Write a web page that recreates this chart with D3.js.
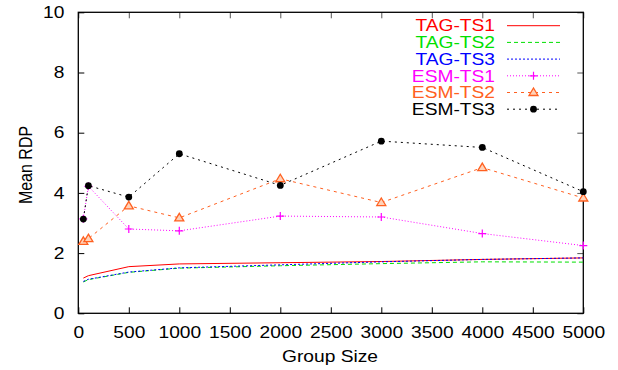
<!DOCTYPE html>
<html>
<head>
<meta charset="utf-8">
<script src="https://cdn.jsdelivr.net/npm/d3@7"></script>
<style>
  html, body { margin: 0; padding: 0; background: #fff; }
  svg { display: block; }
  text { font-family: "Liberation Sans", Arial, Helvetica, sans-serif; }
</style>
</head>
<body>
<svg id="chart" width="618" height="370"></svg>
<script>
// Group sizes on the x axis
const groupSizes = [50, 100, 500, 1000, 2000, 3000, 4000, 5000];

// Mean RDP per method
const tagTs1 = [1.17, 1.25, 1.55, 1.64, 1.68, 1.72, 1.79, 1.84];
const tagTs2 = [1.04, 1.12, 1.36, 1.50, 1.58, 1.65, 1.71, 1.70];
const tagTs3 = [1.06, 1.13, 1.37, 1.51, 1.61, 1.71, 1.79, 1.84];
const esmTs1 = [3.14, 4.22, 2.80, 2.74, 3.23, 3.20, 2.65, 2.25];
const esmTs2 = [2.39, 2.48, 3.57, 3.17, 4.47, 3.68, 4.84, 3.83];
const esmTs3 = [3.13, 4.24, 3.86, 5.30, 4.25, 5.72, 5.51, 4.04];

const seriesNames = ["TAG-TS1", "TAG-TS2", "TAG-TS3", "ESM-TS1", "ESM-TS2", "ESM-TS3"];
const xTicks = [0, 500, 1000, 1500, 2000, 2500, 3000, 3500, 4000, 4500, 5000];
const yTicks = [0, 2, 4, 6, 8, 10];

const styles = [
  { color: "#ff0000", dash: null,  marker: null },
  { color: "#00e000", dash: "4,3", marker: null },
  { color: "#0000ff", dash: "2,2", marker: null },
  { color: "#ff00ff", dash: "1,2", marker: "plus" },
  { color: "#ff6020", dash: "3,4", marker: "triangle" },
  { color: "#000000", dash: "2,4", marker: "circle" }
];
const seriesValues = [tagTs1, tagTs2, tagTs3, esmTs1, esmTs2, esmTs3];
const series = seriesNames.map((name, i) => ({
  name, values: seriesValues[i], ...styles[i]
}));

const SX = 1.2;   // horizontal stretch of the lettering
const FS = 16;    // font size
const svg = d3.select("#chart");
const plotLeft = 78.3, plotRight = 583.3, plotTop = 12.3, plotBottom = 313.3;

const x = d3.scaleLinear().domain([0, 5000]).range([plotLeft, plotRight]);
const y = d3.scaleLinear().domain([0, 10]).range([plotBottom, plotTop]);

svg.append("rect").attr("width", 618).attr("height", 370).attr("fill", "#fff");

// axes with inward ticks on all four sides
function styleAxis(g, col) {
  g.select(".domain").remove();
  g.selectAll(".tick line").attr("stroke", col).attr("stroke-width", 1);
  g.selectAll("text").attr("font-size", FS).attr("fill", "#000")
    .attr("font-family", '"Liberation Sans", Arial, sans-serif');
}

const gx = svg.append("g").attr("transform", `translate(0,${plotBottom})`)
  .call(d3.axisBottom(x).tickValues(xTicks).tickSize(-6).tickPadding(13).tickFormat(d3.format("d")));
styleAxis(gx, "#000");
gx.selectAll("text").attr("transform", `scale(${SX},1)`);

const gxt = svg.append("g").attr("transform", `translate(0,${plotTop})`)
  .call(d3.axisTop(x).tickValues(xTicks).tickSize(-6).tickFormat(""));
styleAxis(gxt, "#555");

const gy = svg.append("g").attr("transform", `translate(${plotLeft},0)`)
  .call(d3.axisLeft(y).tickValues(yTicks).tickSize(-6).tickPadding(14).tickFormat(d3.format("d")));
styleAxis(gy, "#000");
gy.selectAll("text").attr("x", -14 / SX).attr("transform", `scale(${SX},1)`);

const gyr = svg.append("g").attr("transform", `translate(${plotRight},0)`)
  .call(d3.axisRight(y).tickValues(yTicks).tickSize(-6).tickFormat(""));
styleAxis(gyr, "#555");

// frame
svg.append("rect")
  .attr("x", plotLeft).attr("y", plotTop)
  .attr("width", plotRight - plotLeft).attr("height", plotBottom - plotTop)
  .attr("fill", "none").attr("stroke", "#000").attr("stroke-width", 1.3);

// axis titles
svg.append("g").attr("transform", `translate(330,362)`)
  .append("text").attr("text-anchor", "middle").attr("font-size", FS)
  .attr("transform", `scale(${SX},1)`).text("Group Size");
svg.append("g").attr("transform", `translate(32,165) scale(${SX},1)`)
  .append("text").attr("text-anchor", "middle").attr("font-size", FS)
  .attr("transform", "rotate(-90)").text("Mean RDP");

// markers
function drawMarker(g, type, color, cx, cy) {
  if (type === "plus") {
    g.append("path").attr("d", `M${cx - 4},${cy}H${cx + 4}M${cx},${cy - 4}V${cy + 4}`)
      .attr("stroke", color).attr("stroke-width", 1.2).attr("fill", "none");
  } else if (type === "triangle") {
    g.append("path").attr("d", `M${cx},${cy - 4.5}L${cx + 4.5},${cy + 3}L${cx - 4.5},${cy + 3}Z`)
      .attr("stroke", color).attr("stroke-width", 1.3).attr("fill", "#ffd2b8");
  } else if (type === "circle") {
    g.append("circle").attr("cx", cx).attr("cy", cy).attr("r", 3.4).attr("fill", color);
  }
}

const line = d3.line().x(d => x(d[0])).y(d => y(d[1]));
const plot = svg.append("g");
series.forEach(s => {
  const pts = groupSizes.map((g, i) => [g, s.values[i]]);
  plot.append("path").attr("d", line(pts))
    .attr("fill", "none").attr("stroke", s.color).attr("stroke-width", 1)
    .attr("stroke-dasharray", s.dash);
  if (s.marker) {
    const mg = plot.append("g");
    pts.forEach(p => drawMarker(mg, s.marker, s.color, x(p[0]), y(p[1])));
  }
});

// legend
const legend = svg.append("g");
series.forEach((s, i) => {
  const ly = 25.7 + i * 16.7;
  legend.append("g").attr("transform", `translate(495,${ly})`)
    .append("text").attr("text-anchor", "end").attr("dy", "0.36em")
    .attr("font-size", FS).attr("fill", s.color)
    .attr("transform", `scale(${SX},1)`).text(s.name);
  legend.append("path").attr("d", `M507,${ly}H560`)
    .attr("stroke", s.color).attr("stroke-width", 1).attr("stroke-dasharray", s.dash);
  if (s.marker) drawMarker(legend, s.marker, s.color, 533.5, ly);
});
</script>
</body>
</html>
